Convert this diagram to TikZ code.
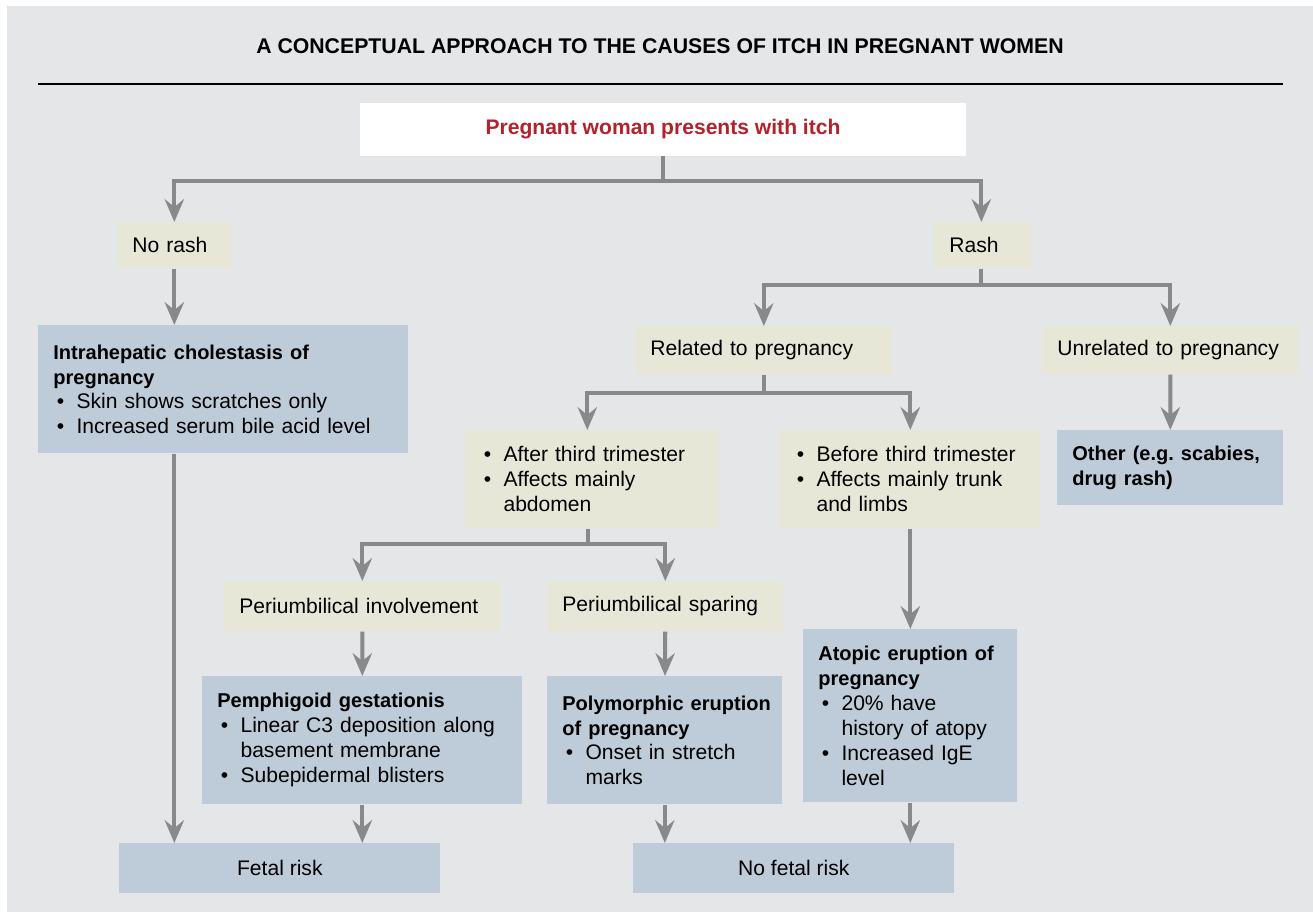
\documentclass[tikz,border=0pt]{standalone}
\usepackage{fontspec}
\setmainfont{Liberation Sans}
\usepackage{xcolor}
\usepackage{tikz}
\usetikzlibrary{positioning,arrows.meta}

\definecolor{bggray}{HTML}{E5E6E8}
\definecolor{cream}{HTML}{E7E7D8}
\definecolor{slate}{HTML}{BECBD8}
\definecolor{linegray}{HTML}{88898B}
\definecolor{itchred}{HTML}{B3222A}

% bullet line and hanging indent
\newcommand{\bl}[1]{\hspace*{2pt}\textbullet\hspace{7pt}\mbox{#1}}
\newcommand{\ind}[1]{\hspace*{2pt}\phantom{\textbullet}\hspace{7pt}\mbox{#1}}
\newcommand{\hd}[1]{\mbox{\fontsize{11.4}{14.2}\selectfont\bfseries #1}}

\begin{document}
\frenchspacing
\begin{tikzpicture}[x=0.02cm, y=-0.02cm,
    font=\fontsize{12}{14.2}\selectfont,
    cbox/.style={fill=cream, anchor=north west, inner xsep=0.3cm, inner ysep=0pt, align=left},
    sbox/.style={fill=slate, anchor=north west, inner xsep=0.3cm, inner ysep=0pt, align=left},
    arr/.style={draw=linegray, line width=2.3pt, -{Stealth[length=13pt, width=11pt, inset=4.5pt]}}]

    % frame
    \useasboundingbox (0,0) rectangle (1313,912);
    \fill[bggray] (7,6) rectangle (1313,912);
    \node (title) at (660,46) {\fontsize{12.1}{14}\selectfont\bfseries A CONCEPTUAL APPROACH TO THE CAUSES OF ITCH IN PREGNANT WOMEN};
    \draw[line width=0.8pt] (38,84) -- (1283,84);

    % start
    \node[fill=white, minimum width=12.12cm, minimum height=1.06cm, text=itchred] (top) at (663,129.5)
        {\bfseries Pregnant woman presents with itch};

    % first split
    \node[cbox, text width=1.68cm, minimum height=0.92cm] (norash) at (117,222) {No rash};
    \node[cbox, text width=1.34cm, minimum height=0.92cm] (rash) at (934,222) {Rash};
    \node[sbox, text width=6.8cm, minimum height=2.56cm] (icp) at (38,325)
        {\hd{Intrahepatic cholestasis of}\\ \hd{pregnancy}\\
         \bl{Skin shows scratches only}\\ \bl{Increased serum bile acid level}};

    % rash branch
    \node[cbox, text width=4.54cm, minimum height=0.96cm] (related) at (635,326) {Related to pregnancy};
    \node[cbox, text width=4.52cm, minimum height=0.96cm] (unrelated) at (1042,326) {Unrelated to pregnancy};
    \node[cbox, text width=4.48cm, minimum height=1.96cm] (after) at (465,430)
        {\bl{After third trimester}\\ \bl{Affects mainly}\\ \ind{abdomen}};
    \node[cbox, text width=4.64cm, minimum height=1.96cm] (before) at (778,430)
        {\bl{Before third trimester}\\ \bl{Affects mainly trunk}\\ \ind{and limbs}};
    \node[sbox, text width=3.92cm, minimum height=1.5cm] (other) at (1057,430)
        {\hd{Other (e.g. scabies,}\\ \hd{drug rash)}};

    % periumbilical
    \node[cbox, text width=4.92cm, minimum height=1.0cm] (pinv) at (224,581) {Periumbilical involvement};
    \node[cbox, text width=4.12cm, minimum height=1.0cm] (pspar) at (547,581) {Periumbilical sparing};
    \node[sbox, text width=5.8cm, minimum height=2.56cm] (pg) at (202,676)
        {\hd{Pemphigoid gestationis}\\ \bl{Linear C3 deposition along}\\
         \ind{basement membrane}\\ \bl{Subepidermal blisters}};
    \node[sbox, text width=4.1cm, minimum height=2.56cm] (pep) at (547,676)
        {\hd{Polymorphic eruption}\\ \hd{of pregnancy}\\ \bl{Onset in stretch}\\ \ind{marks}};
    \node[sbox, text width=3.68cm, minimum height=3.46cm] (atopic) at (803,629)
        {\hd{Atopic eruption of}\\ \hd{pregnancy}\\ \bl{20\% have}\\ \ind{history of atopy}\\
         \bl{Increased IgE}\\ \ind{level}};

    % outcomes
    \node[fill=slate, anchor=north west, minimum width=6.42cm, minimum height=1.0cm] (fetal) at (119,843) {Fetal risk};
    \node[fill=slate, anchor=north west, minimum width=6.42cm, minimum height=1.0cm] (nofetal) at (633,843) {No fetal risk};

    % connectors
    \draw[arr] (top.south) -- ++(0,25) -| (norash.north);
    \draw[arr] (top.south) -- ++(0,25) -| ([xshift=-0.03cm]rash.north);
    \draw[arr] (norash) -- (norash |- icp.north);
    \draw[arr] (icp.south -| norash) -- (fetal.north -| norash);
    \draw[arr] ([xshift=-0.03cm]rash.south) -- ++(0,16) -| (related.north);
    \draw[arr] ([xshift=-0.03cm]rash.south) -- ++(0,16) -| (unrelated.north);
    \draw[arr] (related.south) -- ++(0,18) -| ([xshift=-0.1cm]after.north);
    \draw[arr] (related.south) -- ++(0,18) -| (before.north -| atopic);
    \draw[arr] (unrelated) -- (other);
    \draw[arr] ([xshift=-0.08cm]after.south) -- ++(0,15) -| (pinv.north);
    \draw[arr] ([xshift=-0.08cm]after.south) -- ++(0,15) -| (pspar.north);
    \draw[arr] (before.south -| atopic) -- (atopic.north);
    \draw[arr] (pinv) -- (pg);
    \draw[arr] (pspar) -- (pep);
    \draw[arr] (pg.south) -- (pg.south |- fetal.north);
    \draw[arr] (pep.south) -- (pep.south |- nofetal.north);
    \draw[arr] (atopic.south) -- (atopic.south |- nofetal.north);
\end{tikzpicture}
\end{document}
